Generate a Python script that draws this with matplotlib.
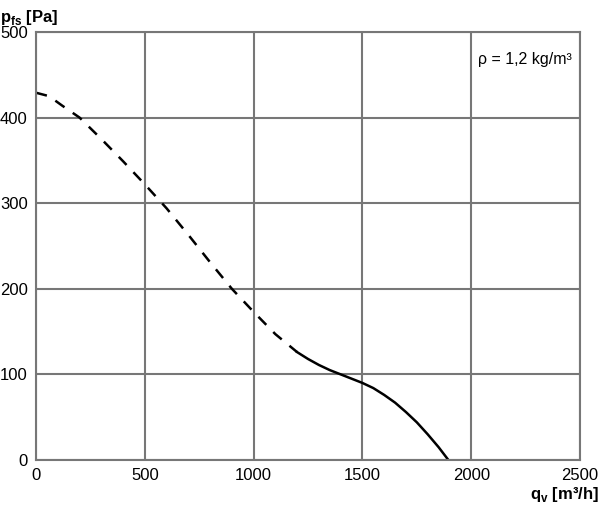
import matplotlib.pyplot as plt

plt.rcParams['font.family'] = ['Liberation Sans', 'DejaVu Sans']

# dashed part of the fan curve (outside the working range)
q_dash = [0, 60, 120, 200, 300, 400, 500, 600, 700, 800, 900, 1000, 1100, 1200]
p_dash = [429, 425, 414, 400, 375, 349, 322, 294, 263, 231, 200, 173, 147, 126]

# solid part
q_solid = [1200, 1250, 1300, 1350, 1400, 1450, 1500, 1550, 1600, 1650, 1700, 1750, 1800, 1850, 1895]
p_solid = [126, 118, 111, 105, 100, 95, 90, 84, 76, 67, 56, 44, 30, 15, 0]

xticks = [0, 500, 1000, 1500, 2000, 2500]
yticks = [0, 100, 200, 300, 400, 500]

fig = plt.figure(figsize=(6, 5.12), dpi=100)
ax = fig.add_axes([0.06, 0.1016, 0.9067, 0.836])

ax.plot(q_dash, p_dash, color='black', lw=1.8, dashes=(4.5, 4))
ax.plot(q_solid, p_solid, color='black', lw=1.8)

ax.set_xlim(0, 2500)
ax.set_ylim(0, 500)
ax.set_xticks(xticks)
ax.set_yticks(yticks)
ax.grid(True, color='#777777', lw=1.5)
ax.tick_params(length=0, labelsize=12, pad=6)
for s in ax.spines.values():
    s.set_color('#777777')
    s.set_linewidth(1.5)

fig.text(0.0, 0.985, r'p$_{\mathregular{fs}}$ [Pa]', fontsize=12, fontweight='bold', va='top', ha='left')
fig.text(0.998, 0.015, r'q$_{\mathregular{v}}$ [m³/h]', fontsize=12, fontweight='bold', va='bottom', ha='right')
ax.text(0.985, 0.935, 'ρ = 1,2 kg/m³', transform=ax.transAxes, fontsize=11.5, ha='right', va='center')

fig.savefig('out.png')
